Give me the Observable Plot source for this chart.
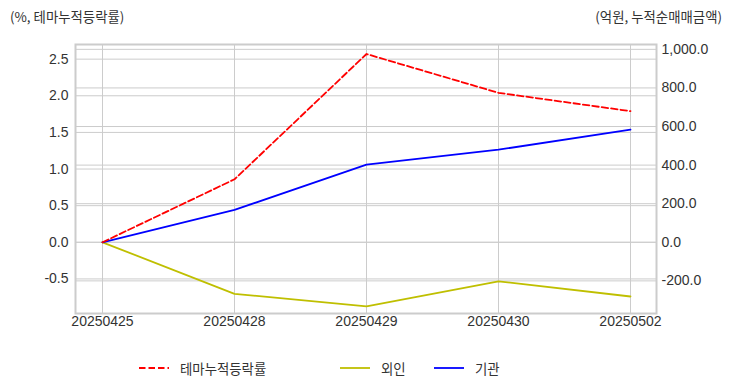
<!DOCTYPE html>
<html>
<head>
<meta charset="utf-8">
<script src="https://cdn.jsdelivr.net/npm/d3@7"></script>
<script src="https://cdn.jsdelivr.net/npm/@observablehq/plot@0.6"></script>
<style>
  body { margin: 0; background: #fff; font-family: "Liberation Sans", Arial, "Noto Sans CJK KR", sans-serif; }
  #wrap { width: 732px; height: 392px; position: relative; }
  .title { position: absolute; top: 6px; font-size: 13.4px; color: #333; font-family: "Noto Sans CJK KR", sans-serif; }
  #chart { position: absolute; top: 30px; left: 0; }
  #legend { position: absolute; top: 358px; left: 0; width: 732px; height: 20px; font-size: 13.4px; color: #333; font-family: "Noto Sans CJK KR", sans-serif; }
  .item { position: absolute; top: 0; display: flex; align-items: center; height: 20px; }
  .item svg { margin-right: 10px; }
</style>
</head>
<body>
<div id="wrap">
  <div class="title" style="left:10px;">(%, 테마누적등락률)</div>
  <div class="title" style="right:10px;">(억원, 누적순매매금액)</div>
  <div id="chart"></div>
  <div id="legend"></div>
</div>
<script>
const dates = ["20250425", "20250428", "20250429", "20250430", "20250502"];
const themeRate = [0, 0.86, 2.57, 2.04, 1.79];
const foreignNet = [0, -267, -332, -202, -281];
const instNet = [0, 168, 403, 480, 584];
const leftTicks = [-0.5, 0, 0.5, 1.0, 1.5, 2.0, 2.5];
const rightTicks = [-200, 0, 200, 400, 600, 800, 1000];
const seriesNames = ["테마누적등락률", "외인", "기관"];
const seriesColors = ["#ff0000", "#bfbf00", "#0000ff"];

const leftDomain = [-0.972, 2.70];
const k = 0.002634; // right-axis units -> left-axis units

const loc = d3.formatLocale({decimal: ".", thousands: ",", grouping: [3], currency: ["", ""], minus: "-"});
const fmtL = loc.format(".1f");
const fmtR = loc.format(",.1f");

const themeData = dates.map((d, i) => ({date: d, v: themeRate[i]}));
const foreignData = dates.map((d, i) => ({date: d, v: foreignNet[i] * k}));
const instData = dates.map((d, i) => ({date: d, v: instNet[i] * k}));

const gridColor = "#cccccc";
const chart = Plot.plot({
  width: 732,
  height: 310,
  marginLeft: 75,
  marginRight: 76,
  marginTop: 14,
  marginBottom: 27,
  style: {fontSize: "14px", color: "#333", fontFamily: "'Liberation Sans', Arial, sans-serif"},
  x: {type: "point", domain: dates, padding: 0.197, axis: null, label: null},
  y: {domain: leftDomain, axis: null, label: null},
  marks: [
    Plot.gridX(dates, {stroke: gridColor, strokeOpacity: 1, strokeWidth: 1}),
    Plot.gridY(leftTicks, {stroke: gridColor, strokeOpacity: 1, strokeWidth: 1}),
    Plot.gridY(rightTicks.map(v => v * k), {stroke: gridColor, strokeOpacity: 1, strokeWidth: 1}),
    Plot.frame({stroke: gridColor, strokeWidth: 2}),
    Plot.axisX(dates, {anchor: "bottom", tickSize: 0, tickPadding: 3, fontSize: 14, label: null}),
    Plot.axisY(leftTicks, {anchor: "left", tickSize: 0, tickPadding: 7, tickFormat: fmtL, fontSize: 14, label: null}),
    Plot.axisY(rightTicks.map(v => v * k), {anchor: "right", tickSize: 0, tickPadding: 5, tickFormat: d => fmtR(Math.round(d / k)), fontSize: 14, label: null}),
    Plot.line(foreignData, {x: "date", y: "v", stroke: seriesColors[1], strokeWidth: 1.8}),
    Plot.line(instData, {x: "date", y: "v", stroke: seriesColors[2], strokeWidth: 1.8}),
    Plot.line(themeData, {x: "date", y: "v", stroke: seriesColors[0], strokeWidth: 1.8, strokeDasharray: "6.5,3"})
  ]
});
document.getElementById("chart").appendChild(chart);

const legendPos = [138, 339, 433];
const legend = document.getElementById("legend");
seriesNames.forEach((name, i) => {
  const item = document.createElement("div");
  item.className = "item";
  item.style.left = legendPos[i] + "px";
  const dash = i === 0 ? 'stroke-dasharray="6.5,3"' : '';
  item.innerHTML = `<svg width="32" height="10"><line x1="1" y1="5" x2="31" y2="5" stroke="${seriesColors[i]}" stroke-width="1.8" ${dash}/></svg><span>${name}</span>`;
  legend.appendChild(item);
});
</script>
</body>
</html>
